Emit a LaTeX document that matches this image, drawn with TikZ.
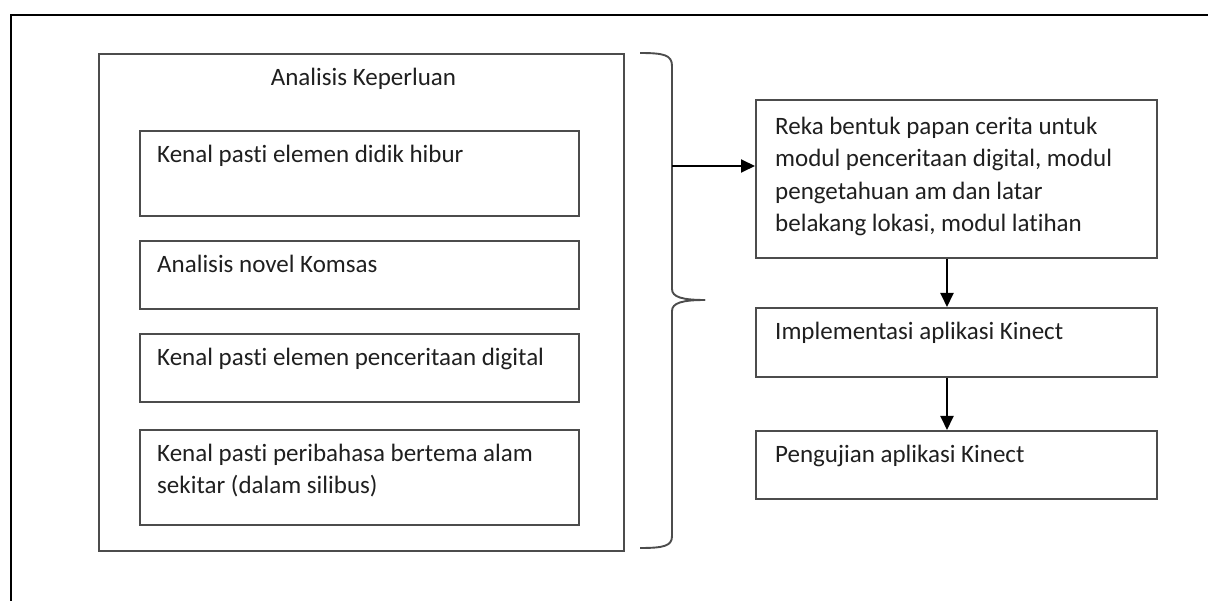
\documentclass[tikz,border=0pt]{standalone}
\usepackage{fontspec}
\setmainfont{Carlito}[Ligatures={NoCommon}]
\usetikzlibrary{arrows.meta,calc}
\begin{document}
\begin{tikzpicture}[x=1pt,y=-1pt,
  boxstyle/.style={draw=black!70,line width=1.9pt,inner sep=0pt,anchor=north west},
  txt/.style={inner sep=0pt,anchor=north west,align=left,font=\fontsize{25}{32.5}\selectfont,text=black!88},
  arr/.style={-{Triangle[length=14pt,width=13pt]},line width=1.9pt,black}]
\useasboundingbox (0,0) rectangle (1208,601);
\draw[line width=2.5pt] (11,601) -- (11,15) -- (1208,15);
% main box
\node[boxstyle,minimum width=525pt,minimum height=497pt] (main) at (98,53) {};
\node[txt,anchor=north] (title) at ($(main.north)+(2,12)$) {\rule{0pt}{20pt}Analisis Keperluan};
% inner boxes
\node[boxstyle,minimum width=439pt,minimum height=85pt] (A) at (139,130) {};
\node[boxstyle,minimum width=439pt,minimum height=68pt] (B) at (139,240) {};
\node[boxstyle,minimum width=439pt,minimum height=68pt] (C) at (139,333) {};
\node[boxstyle,minimum width=439pt,minimum height=95pt] (D) at (139,429) {};
\node[txt] (tA) at ($(A.north west)+(18,12)$) {\rule{0pt}{20pt}Kenal pasti elemen didik hibur};
\node[txt] (tB) at ($(B.north west)+(18,12)$) {\rule{0pt}{20pt}Analisis novel Komsas};
\node[txt] (tC) at ($(C.north west)+(18,12)$) {\rule{0pt}{20pt}Kenal pasti elemen penceritaan digital};
\node[txt] (tD) at ($(D.north west)+(18,12)$) {\rule{0pt}{20pt}Kenal pasti peribahasa bertema alam\\sekitar (dalam silibus)};
% right boxes
\node[boxstyle,minimum width=401pt,minimum height=158pt] (R1) at (755,99) {};
\node[boxstyle,minimum width=401pt,minimum height=69pt] (R2) at (755,307) {};
\node[boxstyle,minimum width=401pt,minimum height=68pt] (R3) at (755,430) {};
\node[txt] (tR1) at ($(R1.north west)+(20,15)$) {\rule{0pt}{20pt}Reka bentuk papan cerita untuk\\modul penceritaan digital, modul\\pengetahuan am dan latar\\belakang lokasi, modul latihan};
\node[txt] (tR2) at ($(R2.north west)+(20,12)$) {\rule{0pt}{20pt}Implementasi aplikasi Kinect};
\node[txt] (tR3) at ($(R3.north west)+(20,12)$) {\rule{0pt}{20pt}Pengujian aplikasi Kinect};
% brace
\coordinate (btop) at (640,53);
\coordinate (btip) at (705,300);
\coordinate (bbot) at (640,548);
\draw[draw=black!70,line width=1.9pt] (btop) .. controls (664,53) and (672,55) .. (672,66) -- (672,289) .. controls (672,297) and (682,300) .. (btip);
\draw[draw=black!70,line width=1.9pt] (btip) .. controls (682,300) and (672,303) .. (672,311) -- (672,536) .. controls (672,546) and (664,548) .. (bbot);
% arrows
\coordinate (bm) at (672,166);
\draw[arr] (bm) -- (bm -| R1.west);
\coordinate (ax) at (947,0);
\draw[arr] (ax |- R1.south) -- (ax |- R2.north);
\draw[arr] (ax |- R2.south) -- (ax |- R3.north);
\end{tikzpicture}
\end{document}
